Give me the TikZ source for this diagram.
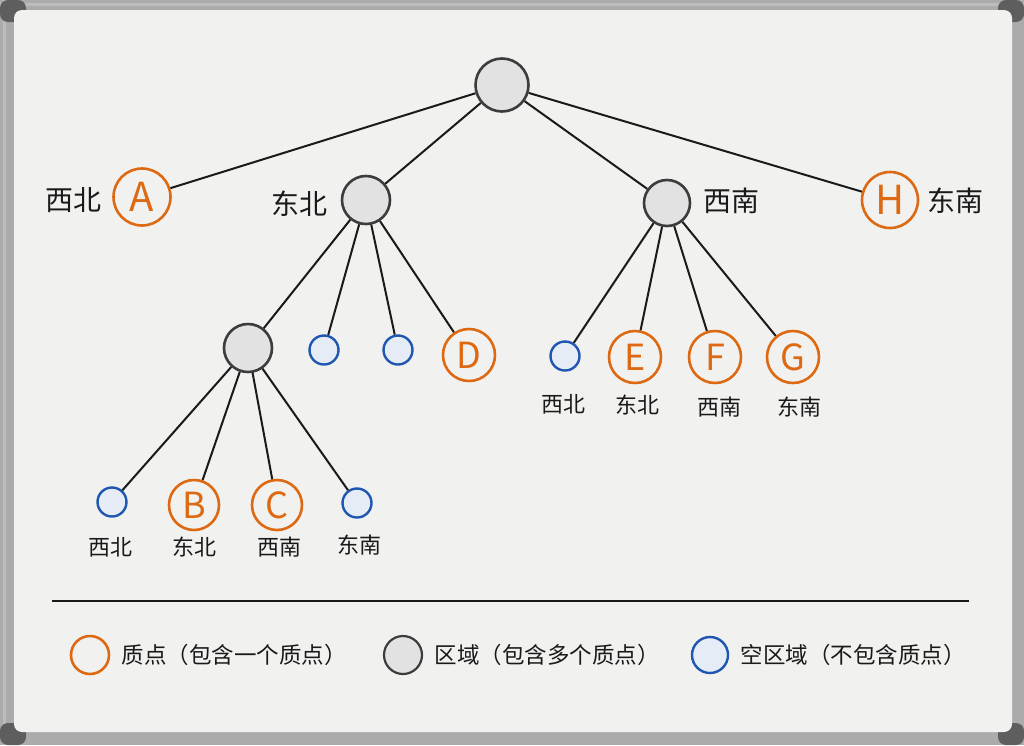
\documentclass[tikz,border=0pt]{standalone}
\usepackage{fontspec}
\setmainfont{Noto Sans CJK SC}
\newfontfamily\cjk{Noto Sans CJK SC}
\definecolor{board}{HTML}{F1F1F0}
\definecolor{framec}{HTML}{ABABAB}
\definecolor{framed}{HTML}{5E5E5E}
\definecolor{orng}{HTML}{DD6A12}
\definecolor{blu}{HTML}{1E56B0}
\definecolor{regfill}{HTML}{E2E2E2}
\definecolor{emptyfill}{HTML}{E6ECF5}
\definecolor{ink}{HTML}{1A1A1A}
\begin{document}
\begin{tikzpicture}[x=1pt,y=-1pt,
  region/.style={circle,draw=ink!85,line width=2.6pt,fill=regfill,minimum size=#1,inner sep=0pt},
  region/.default=50pt,
  point/.style={circle,draw=orng,line width=2.6pt,fill=board,minimum size=#1,inner sep=0pt,text=orng,font=\fontsize{36}{36}\selectfont},
  point/.default=54pt,
  emptyq/.style={circle,draw=blu,line width=2.4pt,fill=emptyfill,minimum size=29pt,inner sep=0pt},
  biglab/.style={font=\fontsize{28}{28}\selectfont,text=ink},
  smalllab/.style={font=\fontsize{22}{22}\selectfont,text=ink},
  leglab/.style={font=\fontsize{22.5}{22.5}\selectfont,text=ink,anchor=west},
  edge/.style={draw=ink,line width=2pt}]
\useasboundingbox (0,0) rectangle (1024,745);
% frame
\fill[framec] (0,0) rectangle (1024,745);
\fill[framec!80!white] (0,3) rectangle (1024,6);
\fill[framec!80!white] (3,0) rectangle (6,745);
\fill[framed,rounded corners=8pt] (0,0) rectangle (26,22);
\fill[framed,rounded corners=8pt] (998,0) rectangle (1024,22);
\fill[framed,rounded corners=8pt] (0,723) rectangle (26,745);
\fill[framed,rounded corners=8pt] (998,723) rectangle (1024,745);
\fill[board,rounded corners=8pt] (14,10) rectangle (1012,732);

% nodes
\node[region=53pt] (root) at (502,85) {};
\node[point=57pt,font=\fontsize{40}{40}\selectfont] (A) at (142,197) {A};
\node[region=48pt] (ne) at (366,200) {};
\node[region=46pt] (sw) at (667,203) {};
\node[point=56pt,font=\fontsize{40}{40}\selectfont] (H) at (890,200) {H};
\node[biglab] (lA) at (73,200) {西北};
\node[biglab] (lne) at (299,204) {东北};
\node[biglab] (lsw) at (731,201) {西南};
\node[biglab] (lH) at (955,201) {东南};

\node[region=48pt] (nw) at (248,348) {};
\node[emptyq] (e1) at (324,350) {};
\node[emptyq] (e2) at (398,350) {};
\node[point=52pt] (D) at (469,355) {D};

\node[emptyq] (e3) at (112,502) {};
\node[point=50pt] (B) at (194,505) {B};
\node[point=50pt] (C) at (277,505) {C};
\node[emptyq] (e4) at (357,503) {};
\node[smalllab] at (110,547) {西北};
\node[smalllab] at (194,547) {东北};
\node[smalllab] at (279,547) {西南};
\node[smalllab] at (359,545) {东南};

\node[emptyq] (e5) at (565,356) {};
\node[point=52pt] (E) at (635,357) {E};
\node[point=52pt] (F) at (715,357) {F};
\node[point=52pt] (G) at (793,357) {G};
\node[smalllab] at (563,404) {西北};
\node[smalllab] at (637,405) {东北};
\node[smalllab] at (719,407) {西南};
\node[smalllab] at (799,407) {东南};

% edges
\draw[edge] (root) -- (A);
\draw[edge] (root) -- (ne);
\draw[edge] (root) -- (sw);
\draw[edge] (root) -- (H);
\draw[edge] (ne) -- (nw);
\draw[edge] (ne) -- (e1);
\draw[edge] (ne) -- (e2);
\draw[edge] (ne) -- (D);
\draw[edge] (nw) -- (e3);
\draw[edge] (nw) -- (B);
\draw[edge] (nw) -- (C);
\draw[edge] (nw) -- (e4);
\draw[edge] (sw) -- (e5);
\draw[edge] (sw) -- (E);
\draw[edge] (sw) -- (F);
\draw[edge] (sw) -- (G);

% separator
\coordinate (s1) at (52,601);
\coordinate (s2) at (969,601);
\draw[ink,line width=1.6pt] (s1) -- (s2);

% legend
\node[point=38pt] (lg1) at (90,655) {};
\node[leglab] at (118,655) {质点（包含一个质点）};
\node[region=38pt,line width=2.2pt] (lg2) at (403,655) {};
\node[leglab] at (431,655) {区域（包含多个质点）};
\node[emptyq,minimum size=36pt] (lg3) at (710,655) {};
\node[leglab] at (737,655) {空区域（不包含质点）};
\end{tikzpicture}
\end{document}
